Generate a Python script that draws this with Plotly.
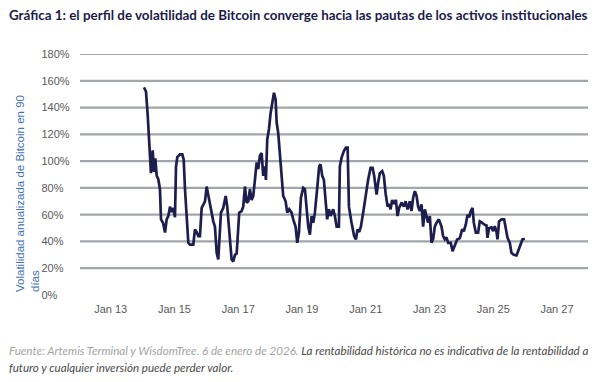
import plotly.graph_objects as go

# ---- data ----
dates = [
    "2014-01-17", "2014-02-09", "2014-03-01", "2014-03-15", "2014-03-30", "2014-04-07",
    "2014-04-27", "2014-05-12", "2014-05-27", "2014-06-12", "2014-06-30", "2014-07-19",
    "2014-07-31", "2014-08-23", "2014-09-15", "2014-10-04", "2014-10-23", "2014-11-11",
    "2014-11-30", "2014-12-19", "2015-01-07", "2015-01-19", "2015-02-03", "2015-03-05",
    "2015-04-01", "2015-04-17", "2015-05-02", "2015-05-21", "2015-06-09", "2015-06-28",
    "2015-08-05", "2015-08-24", "2015-09-13", "2015-10-01", "2015-10-20", "2015-11-09",
    "2015-11-27", "2015-12-17", "2016-01-05", "2016-01-24", "2016-02-12", "2016-03-02",
    "2016-03-21", "2016-04-09", "2016-04-29", "2016-05-17", "2016-06-05", "2016-06-17",
    "2016-07-13", "2016-08-10", "2016-08-28", "2016-09-13", "2016-09-28", "2016-10-17",
    "2016-11-05", "2016-11-24", "2016-12-14", "2016-12-29", "2017-01-12", "2017-02-09",
    "2017-02-27", "2017-03-19", "2017-04-07", "2017-04-26", "2017-05-15", "2017-06-03",
    "2017-06-22", "2017-07-11", "2017-07-31", "2017-08-18", "2017-09-06", "2017-09-26",
    "2017-10-14", "2017-11-03", "2017-11-14", "2017-11-29", "2017-12-19", "2018-01-07",
    "2018-01-25", "2018-02-14", "2018-03-05", "2018-03-17", "2018-04-04", "2018-04-23",
    "2018-05-13", "2018-05-31", "2018-06-28", "2018-07-16", "2018-08-08", "2018-09-04",
    "2018-09-23", "2018-10-20", "2018-11-08", "2018-11-27", "2018-12-20", "2019-01-15",
    "2019-02-04", "2019-02-23", "2019-03-14", "2019-04-02", "2019-04-21", "2019-05-10",
    "2019-05-29", "2019-06-25", "2019-07-17", "2019-08-02", "2019-08-21", "2019-09-09",
    "2019-10-02", "2019-10-17", "2019-11-06", "2019-11-25", "2019-12-25", "2020-01-13",
    "2020-02-02", "2020-02-28", "2020-03-10", "2020-03-30", "2020-04-25", "2020-05-18",
    "2020-06-07", "2020-06-22", "2020-07-22", "2020-08-21", "2020-09-10", "2020-09-29",
    "2020-10-17", "2020-11-06", "2020-12-02", "2020-12-30", "2021-01-28", "2021-02-25",
    "2021-03-20", "2021-04-07", "2021-04-23", "2021-05-05", "2021-05-23", "2021-06-11",
    "2021-07-08", "2021-07-27", "2021-08-16", "2021-09-08", "2021-09-26", "2021-10-12",
    "2021-10-30", "2021-11-19", "2021-12-12", "2021-12-31", "2022-01-18", "2022-02-15",
    "2022-03-13", "2022-04-02", "2022-04-25", "2022-05-21", "2022-06-09", "2022-06-28",
    "2022-07-17", "2022-08-06", "2022-08-24", "2022-09-12", "2022-10-02", "2022-10-20",
    "2022-11-09", "2022-11-28", "2022-12-16", "2023-01-05", "2023-01-24", "2023-02-12",
    "2023-03-03", "2023-03-23", "2023-04-18", "2023-05-19", "2023-06-06", "2023-06-26",
    "2023-07-15", "2023-08-03", "2023-09-02", "2023-09-22", "2023-10-18", "2023-11-14",
    "2023-12-15", "2024-01-10", "2024-01-29", "2024-02-21", "2024-03-12", "2024-03-30",
    "2024-04-18", "2024-05-08", "2024-05-23", "2024-06-15", "2024-07-11", "2024-07-30",
    "2024-08-26", "2024-09-18", "2024-10-15", "2024-10-26", "2024-11-14", "2024-12-11",
    "2024-12-30", "2025-01-18", "2025-02-07", "2025-02-18", "2025-03-08", "2025-04-05",
    "2025-05-05", "2025-05-24", "2025-06-13", "2025-07-09", "2025-07-28", "2025-08-24",
    "2025-09-24", "2025-10-12", "2025-11-09", "2025-12-01", "2025-12-28",
]

volatility = [
    155, 152, 134, 119, 107.5, 91,
    108, 92, 102, 89, 86.5, 79,
    56.5, 54, 46.7, 56.5, 59, 66,
    62, 65, 58, 96, 103, 105,
    105, 101, 79, 56.5, 39, 37.6,
    37.6, 49, 47, 44, 44, 65,
    67.7, 70, 81, 74, 66, 59,
    55, 51, 31.5, 26.5, 45, 61.5,
    65, 74, 66, 55, 44, 26.5,
    25, 30, 31, 45, 61.5, 62.7,
    66, 81, 69, 70, 79, 71,
    74, 86, 99, 94, 104, 106,
    89, 96, 86, 116, 124, 136,
    144, 151, 146, 129, 121, 106,
    91, 74, 70, 61.5, 64, 61.5,
    56.5, 51, 39, 46.5, 72.7, 80,
    79, 66, 51, 45, 59, 54,
    61.5, 80, 96, 97.6, 89, 86,
    69, 56.5, 64, 59, 64, 59,
    51, 51, 96, 102.6, 107.5, 110,
    110, 66, 54, 44, 41.5, 49,
    47, 51, 61.5, 74, 86, 95,
    95, 89, 81, 75, 84, 91,
    92.6, 89, 76, 66, 68, 64,
    71, 68, 71, 59, 65, 69,
    66, 70, 64, 70, 62.7, 72.7,
    77.6, 74, 66, 62.7, 67.7, 51,
    64, 59, 54, 59, 39, 42,
    51, 54, 56.5, 51, 44, 41.5,
    43, 39, 39, 32.7, 37.7, 41.5,
    42.5, 49, 47.5, 52.7, 60, 58,
    62.7, 65, 54, 46.5, 46.5, 55,
    54, 52.7, 52, 42.7, 50, 50.5,
    47.7, 51.5, 47, 41.5, 55, 56.5,
    56.5, 51, 42.7, 39, 31.5, 30,
    29.5, 32.7, 37.7, 41.5, 42,
]

x_range = ["2012-01-15", "2027-12-22"]
x_tick_dates = ["2013-01-01", "2015-01-01", "2017-01-01", "2019-01-01",
                "2021-01-01", "2023-01-01", "2025-01-01", "2027-01-01"]
x_tick_labels = ["Jan 13", "Jan 15", "Jan 17", "Jan 19",
                 "Jan 21", "Jan 23", "Jan 25", "Jan 27"]
y_tick_values = [0, 20, 40, 60, 80, 100, 120, 140, 160, 180]
y_tick_labels = ["0%", "20%", "40%", "60%", "80%", "100%", "120%", "140%", "160%", "180%"]
y_grid_values = [20, 40, 60, 80, 100, 120, 140, 160, 180]

title_text = "Gráfica 1: el perfil de volatilidad de Bitcoin converge hacia las pautas de los activos institucionales"
y_title_text = "Volatilidad anualizada de Bitcoin en 90<br>días"
source_text = "Fuente: Artemis Terminal y WisdomTree. 6 de enero de 2026."
note_text_1 = "La rentabilidad histórica no es indicativa de la rentabilidad a"
note_text_2 = "futuro y cualquier inversión puede perder valor."

# ---- layout geometry (page body adds an 8px offset, so the figure is 8px smaller) ----
W, H = 589, 374
ML, MR, MT, MB = 20, 9, 46, 87
PW = W - ML - MR
PH = H - MT - MB


def fx(px):
    return (px - ML) / PW


def fy(py):
    return (H - MB - py) / PH


AXIS_FONT = dict(family="Liberation Sans, Arial, sans-serif", size=11, color="#595959")
GRID_COLOR = "#a2a6aa"

fig = go.Figure()
fig.add_trace(go.Scatter(
    x=dates, y=volatility, mode="lines",
    line=dict(color="#1d1e4e", width=2.7),
    hoverinfo="skip", showlegend=False,
))

fig.update_layout(
    width=W, height=H,
    margin=dict(l=ML, r=MR, t=MT, b=MB, pad=0, autoexpand=False),
    paper_bgcolor="white", plot_bgcolor="white",
    xaxis=dict(
        domain=[fx(72), 1],
        range=x_range,
        tickvals=x_tick_dates, ticktext=x_tick_labels,
        showgrid=False, zeroline=False, showline=False,
        ticks="outside", ticklen=4, tickcolor="rgba(0,0,0,0)",
        tickfont=AXIS_FONT, automargin=False,
    ),
    yaxis=dict(
        side="right", anchor="free", position=fx(32.5),
        range=[0, 180],
        tickvals=y_tick_values, ticktext=y_tick_labels,
        showgrid=False, zeroline=False,
        showline=False, ticks="",
        tickfont=AXIS_FONT, automargin=False,
    ),
    shapes=[
        dict(type="line", xref="x domain", x0=0, x1=1, yref="y", y0=v, y1=v,
             line=dict(color=GRID_COLOR, width=2.2), layer="below")
        for v in y_grid_values
    ],
    annotations=[
        dict(text="<b>" + title_text + "</b>", xref="paper", yref="paper",
             x=fx(-1), y=fy(7), xanchor="left", yanchor="middle", showarrow=False,
             font=dict(family="Lato, sans-serif", size=13.4, color="#1b1b4b")),
        dict(text=y_title_text, xref="paper", yref="paper", textangle=-90,
             x=fx(4), y=fy(286), xanchor="left", yanchor="bottom", align="left",
             showarrow=False,
             font=dict(family="Liberation Sans, Arial, sans-serif", size=11.5, color="#4470b8")),
        dict(text="<span style='color:#a3a3a3'>" + source_text + "</span> " + note_text_1,
             xref="paper", yref="paper", x=fx(-1), y=fy(342), xanchor="left", yanchor="middle",
             showarrow=False,
             font=dict(family="Lato, sans-serif", size=11.6, color="#4a4a4a", style="italic")),
        dict(text=note_text_2,
             xref="paper", yref="paper", x=fx(-1), y=fy(359), xanchor="left", yanchor="middle",
             showarrow=False,
             font=dict(family="Lato, sans-serif", size=11.6, color="#4a4a4a", style="italic")),
    ],
)

fig.write_html("out.html")
